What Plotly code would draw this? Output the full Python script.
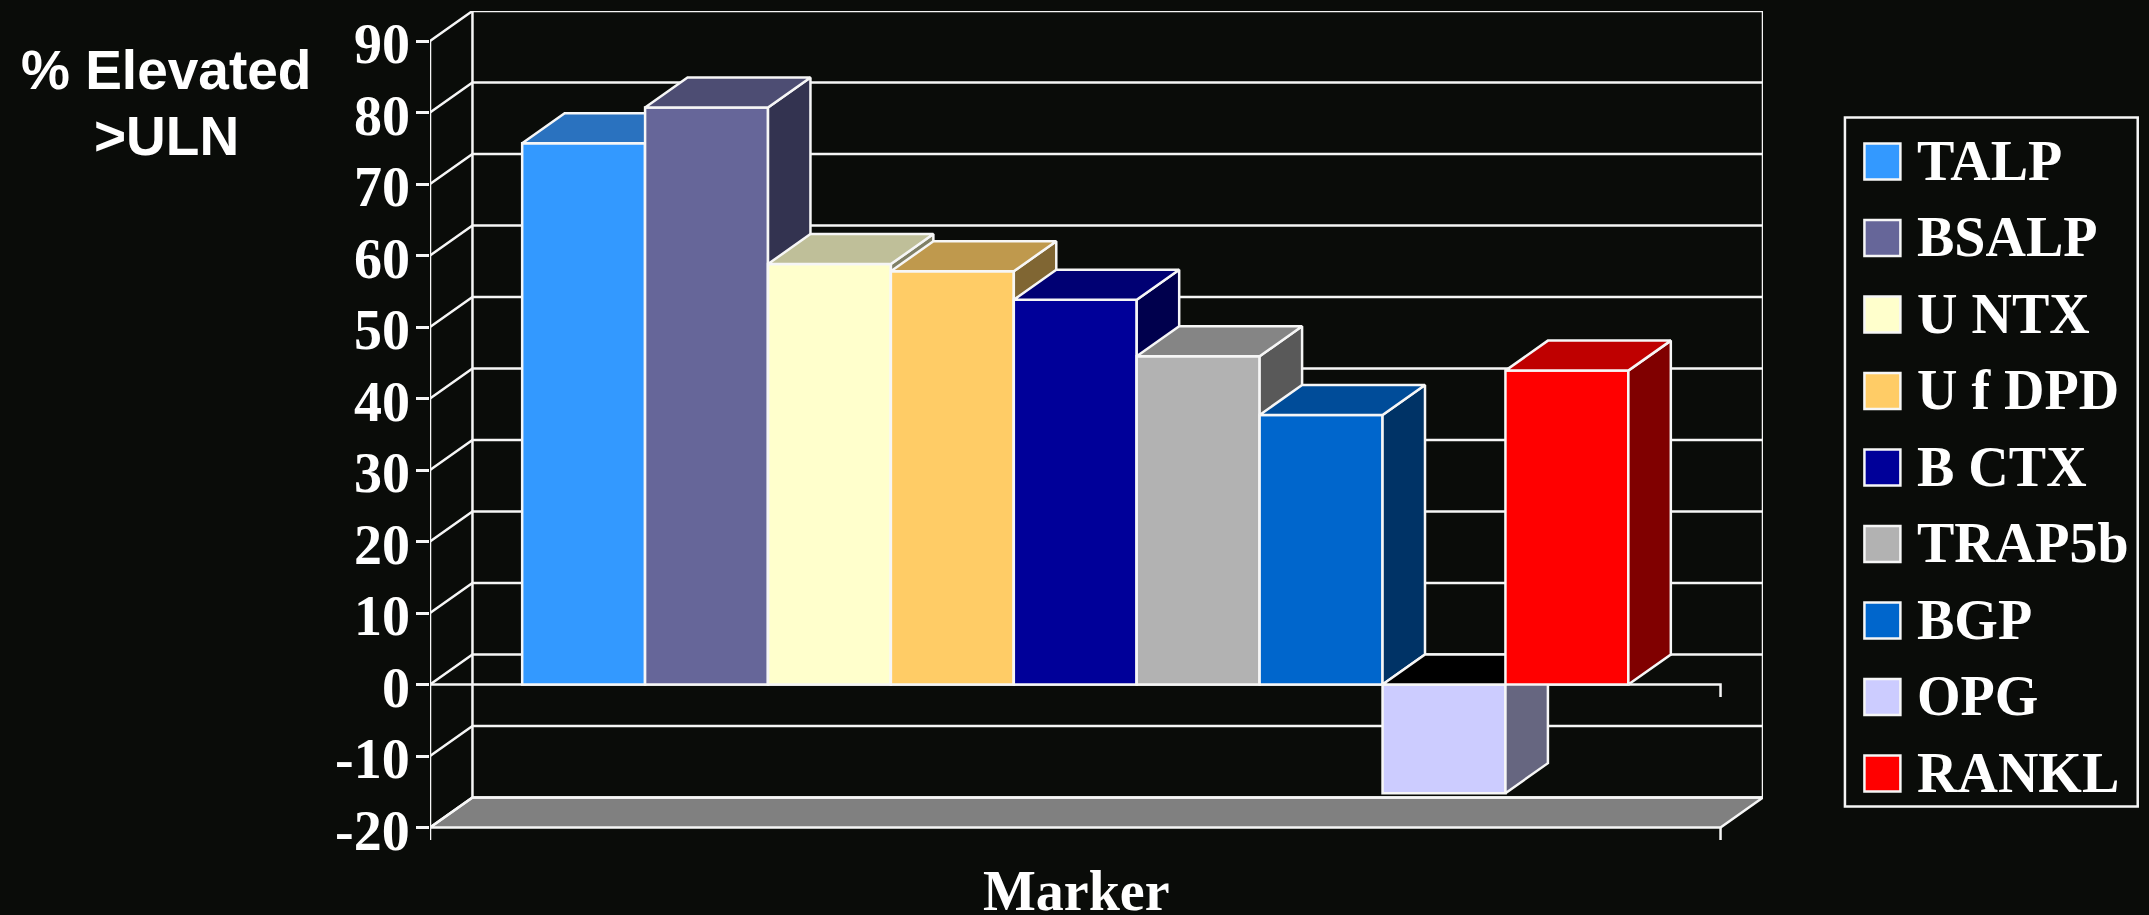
import plotly.graph_objects as go

# Marker data
markers = ["TALP", "BSALP", "U NTX", "U f DPD", "B CTX", "TRAP5b", "BGP", "OPG", "RANKL"]
pct_elevated = [75.7, 80.7, 58.8, 57.8, 53.8, 45.9, 37.7, -15.2, 43.9]
front_colors = ["#3399FF", "#666699", "#FFFFCC", "#FFCC66", "#000099", "#B2B2B2", "#0066CC", "#CCCCFF", "#FF0000"]
top_colors = ["#2A72BF", "#4D4D73", "#BFBF99", "#BF994D", "#000073", "#858585", "#004C99", "#000000", "#BF0000"]
side_colors = ["#1A4D80", "#333350", "#808066", "#806633", "#00004D", "#595959", "#003366", "#666680", "#800000"]
y_ticks = [-20, -10, 0, 10, 20, 30, 40, 50, 60, 70, 80, 90]
y_tick_labels = ["-20", "-10", "0", "10", "20", "30", "40", "50", "60", "70", "80", "90"]

# Figure geometry
W, H = 2149, 915
BG = "#0A0C09"
LINE = "#F6F6F6"
LW = 2.5
PX_PER_BAR = 123.0
PX_PER_PCT = 7.15
X0_PX, Y0_PX = 429.5, 685.0      # front corner of the x axis, and the zero level
DEPTH_X = 42.5 / PX_PER_BAR      # oblique depth offset in bar widths
DEPTH_Y = 30 / PX_PER_PCT        # oblique depth offset in percent units
X_LEFT, X_RIGHT = -1.25, 9.25
Y_MIN, Y_MAX = -20, 90
TICK_DROP = 12.5 / PX_PER_PCT
x_range = [X_LEFT, X_RIGHT + DEPTH_X]
y_range = [Y_MIN - TICK_DROP, Y_MAX + DEPTH_Y]

plot_l = X0_PX
plot_r = X0_PX + (x_range[1] - x_range[0]) * PX_PER_BAR
plot_t = Y0_PX - y_range[1] * PX_PER_PCT
plot_b = Y0_PX - y_range[0] * PX_PER_PCT


def paper_x(px):
    return (px - plot_l) / (plot_r - plot_l)


def paper_y(px):
    return (plot_b - px) / (plot_b - plot_t)


def polygon(xs, ys, fill, axes=("x", "y")):
    return go.Scatter(
        x=xs + xs[:1], y=ys + ys[:1], mode="lines", fill="toself", fillcolor=fill,
        line=dict(color=LINE, width=LW), hoverinfo="skip", showlegend=False,
        xaxis=axes[0], yaxis=axes[1],
    )


def segment(xs, ys):
    return go.Scatter(
        x=xs, y=ys, mode="lines", line=dict(color=LINE, width=LW),
        hoverinfo="skip", showlegend=False, xaxis="x", yaxis="y",
    )


fig = go.Figure()

# Floor of the box
fig.add_trace(polygon(
    [X_LEFT, X_LEFT + DEPTH_X, X_RIGHT + DEPTH_X, X_RIGHT],
    [Y_MIN, Y_MIN + DEPTH_Y, Y_MIN + DEPTH_Y, Y_MIN],
    "#808080",
))

# Back wall and side wall gridlines
for t in y_ticks:
    fig.add_trace(segment([X_LEFT, X_LEFT + DEPTH_X, X_RIGHT + DEPTH_X], [t, t + DEPTH_Y, t + DEPTH_Y]))
fig.add_trace(segment([X_LEFT + DEPTH_X] * 2, [Y_MIN + DEPTH_Y, Y_MAX + DEPTH_Y]))
fig.add_trace(segment([X_RIGHT + DEPTH_X] * 2, [Y_MIN + DEPTH_Y, Y_MAX + DEPTH_Y]))

# Front axis frame, zero line and end ticks
fig.add_trace(segment([X_LEFT] * 2, [Y_MIN - TICK_DROP, Y_MAX]))
fig.add_trace(segment([X_LEFT, X_RIGHT, X_RIGHT], [0, 0, -TICK_DROP]))
fig.add_trace(segment([X_RIGHT, X_RIGHT], [Y_MIN, Y_MIN - TICK_DROP]))

# One overlaid axis pair per bar keeps the faces stacked from left to right
layout_axes = {}
for i, (name, value) in enumerate(zip(markers, pct_elevated)):
    n = i + 2
    xa, ya = f"x{n}", f"y{n}"
    layout_axes[f"xaxis{n}"] = dict(range=x_range, overlaying="x", anchor=ya, visible=False, fixedrange=True)
    layout_axes[f"yaxis{n}"] = dict(range=y_range, overlaying="y", anchor=xa, visible=False, fixedrange=True)
    fig.add_trace(go.Bar(
        x=[i], y=[value], width=1, name=name,
        marker=dict(color=front_colors[i], line=dict(color=LINE, width=LW)),
        showlegend=False, xaxis=xa, yaxis=ya,
    ))
    lo, hi = min(value, 0), max(value, 0)
    left, right = i - 0.5, i + 0.5
    fig.add_trace(polygon(
        [right, right + DEPTH_X, right + DEPTH_X, right],
        [lo, lo + DEPTH_Y, hi + DEPTH_Y, hi],
        side_colors[i], (xa, ya),
    ))
    fig.add_trace(polygon(
        [left, left + DEPTH_X, right + DEPTH_X, right],
        [hi, hi + DEPTH_Y, hi + DEPTH_Y, hi],
        top_colors[i], (xa, ya),
    ))

# Legend box with swatches and labels
LEG_L, LEG_R, LEG_T, LEG_B = 1845.5, 2138.5, 118, 807
SW_L, SW_R, SW_T, SW_SIZE, SW_STEP = 1865, 1901, 144, 36, 76.5
shapes = [dict(
    type="rect", xref="paper", yref="paper",
    x0=paper_x(LEG_L), x1=paper_x(LEG_R), y0=paper_y(LEG_B), y1=paper_y(LEG_T),
    line=dict(color=LINE, width=LW), fillcolor=BG, layer="above",
)]
text_font = dict(family="Liberation Serif", size=56, color="#FFFFFF", weight="bold")
annotations = []
for i, name in enumerate(markers):
    top = SW_T + i * SW_STEP
    shapes.append(dict(
        type="rect", xref="paper", yref="paper",
        x0=paper_x(SW_L), x1=paper_x(SW_R), y0=paper_y(top + SW_SIZE), y1=paper_y(top),
        line=dict(color=LINE, width=LW), fillcolor=front_colors[i], layer="above",
    ))
    annotations.append(dict(
        text=name, xref="paper", yref="paper", x=paper_x(1916), y=paper_y(top + SW_SIZE / 2 - 1),
        xanchor="left", yanchor="middle", showarrow=False, font=text_font,
    ))

# Value axis labels sit slightly below their ticks
for t, label in zip(y_ticks, y_tick_labels):
    annotations.append(dict(
        text=label, xref="paper", yref="y", x=paper_x(411), y=t, yshift=-3,
        xanchor="right", yanchor="middle", showarrow=False, font=text_font,
    ))

# Axis titles
annotations.append(dict(
    text="Marker", xref="paper", yref="paper", x=paper_x(1076), y=paper_y(891), height=46,
    xanchor="center", yanchor="middle", valign="middle", showarrow=False, font=text_font,
))
sans_font = dict(family="Liberation Sans", size=55, color="#FFFFFF", weight="bold")
for label, centre_y in (("% Elevated", 70), ("&gt;ULN", 136)):
    annotations.append(dict(
        text=label, xref="paper", yref="paper", x=paper_x(165.5), y=paper_y(centre_y),
        xanchor="center", yanchor="middle", showarrow=False, font=sans_font,
    ))

fig.update_layout(
    width=W, height=H, autosize=False,
    margin=dict(l=plot_l, r=W - plot_r, t=plot_t, b=H - plot_b, pad=0),
    paper_bgcolor=BG, plot_bgcolor=BG, showlegend=False,
    xaxis=dict(range=x_range, visible=False, fixedrange=True),
    yaxis=dict(
        range=y_range, tickmode="array", tickvals=y_ticks, ticktext=y_tick_labels,
        ticks="outside", ticklen=13, tickwidth=LW, tickcolor=LINE, showticklabels=False,
        showgrid=False, zeroline=False, showline=False, fixedrange=True,
    ),
    shapes=shapes, annotations=annotations,
    **layout_axes,
)

fig.write_html("out.html", config={"displayModeBar": False})
